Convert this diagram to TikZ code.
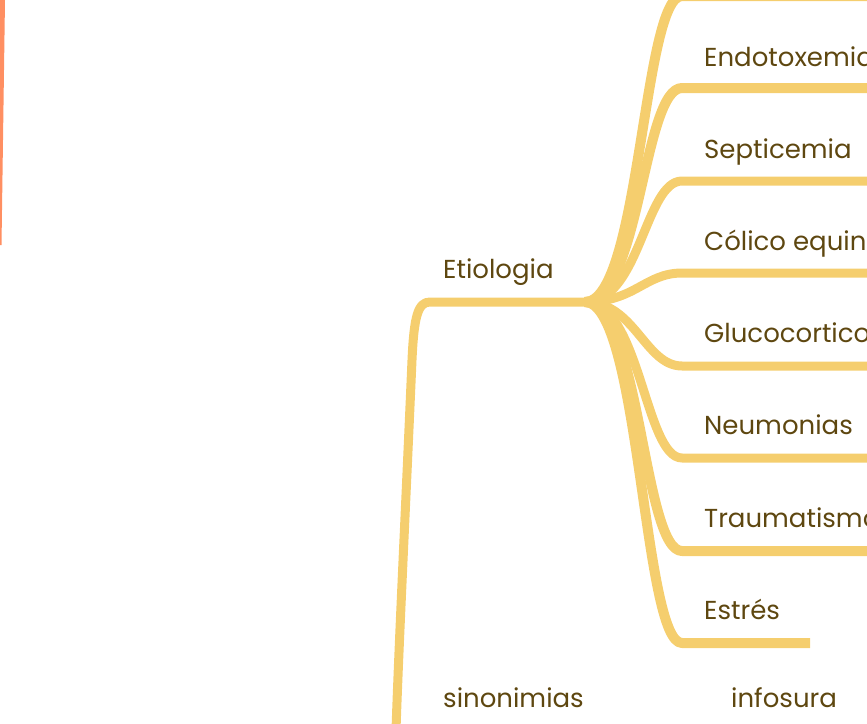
\documentclass[tikz,border=0pt]{standalone}
\usepackage{fontspec}
\setmainfont{Poppins}
\usetikzlibrary{arrows}

\definecolor{branchcol}{RGB}{245,206,110}
\definecolor{labelcol}{RGB}{94,71,16}
\definecolor{edgecol}{RGB}{255,143,98}

\tikzset{
  branchline/.style={draw=branchcol,line width=9pt,line join=round,line cap=butt},
  topiclabel/.style={anchor=base west,inner sep=0pt,text=labelcol,font=\fontsize{26}{30}\selectfont}
}

\begin{document}
\begin{tikzpicture}[x=1pt,y=1pt,yscale=-1,xscale=1]
\useasboundingbox (0,0) rectangle (867,723);

%Shape: orange edge at left
\fill [edgecol] (0,0) -- (5,0) -- (1.5,245) -- (0,245) -- cycle ;

\coordinate (hub) at (585,302) ;
\coordinate (etiostart) at (430,302) ;
\coordinate (rootend) at (396,730) ;

%Straight Lines: Etiologia underline and stem
\draw [branchline] (hub) -- (etiostart) .. controls (418,302) and (414,316) .. (412,360) .. controls (406,500) and (399,640) .. (rootend) ;

%Coordinates of branch starts
\coordinate (b0) at (682,-4) ;
\coordinate (b1) at (682,88) ;
\coordinate (b2) at (682,181) ;
\coordinate (b3) at (682,273) ;
\coordinate (b4) at (682,366) ;
\coordinate (b5) at (682,458) ;
\coordinate (b6) at (682,551) ;
\coordinate (b7) at (682,643) ;
\coordinate (e0) at (880,-4) ;
\coordinate (e1) at (880,88) ;
\coordinate (e2) at (880,181) ;
\coordinate (e3) at (880,273) ;
\coordinate (e4) at (880,366) ;
\coordinate (e5) at (880,458) ;
\coordinate (e6) at (880,551) ;
\coordinate (e7) at (810,643) ;

%Curve Lines
\draw [branchline,line width=10pt] (hub) .. controls (640,302) and (643,-4) .. (b0) -- (e0) ;
%Curve Lines
\draw [branchline,line width=10pt] (hub) .. controls (640,302) and (643,88) .. (b1) -- (e1) ;
%Curve Lines
\draw [branchline] (hub) .. controls (640,302) and (645,181) .. (b2) -- (e2) ;
%Curve Lines
\draw [branchline] (hub) .. controls (635,302) and (645,273) .. (b3) -- (e3) ;
%Curve Lines
\draw [branchline] (hub) .. controls (635,302) and (645,366) .. (b4) -- (e4) ;
%Curve Lines
\draw [branchline] (hub) .. controls (640,302) and (645,458) .. (b5) -- (e5) ;
%Curve Lines
\draw [branchline,line width=10pt] (hub) .. controls (640,302) and (643,551) .. (b6) -- (e6) ;
%Curve Lines
\draw [branchline,line width=10pt] (hub) .. controls (640,302) and (643,643) .. (b7) -- (e7) ;

% Text Node
\node [topiclabel] (etiologia) at (443,278) {Etiologia};
% Text Node
\node [topiclabel] (endotoxemia) at (704,66) {Endotoxemia};
% Text Node
\node [topiclabel] (septicemia) at (704,158) {Septicemia};
% Text Node
\node [topiclabel] (colico) at (704,250) {Cólico equino};
% Text Node
\node [topiclabel] (gluco) at (704,342) {Glucocorticoides};
% Text Node
\node [topiclabel] (neumonias) at (704,434) {Neumonias};
% Text Node
\node [topiclabel] (trauma) at (704,527) {Traumatismo};
% Text Node
\node [topiclabel] (estres) at (704,619) {Estrés};
% Text Node
\node [topiclabel] (sinonimias) at (443,707) {sinonimias};
% Text Node
\node [topiclabel] (infosura) at (731,707) {infosura};

\end{tikzpicture}
\end{document}
